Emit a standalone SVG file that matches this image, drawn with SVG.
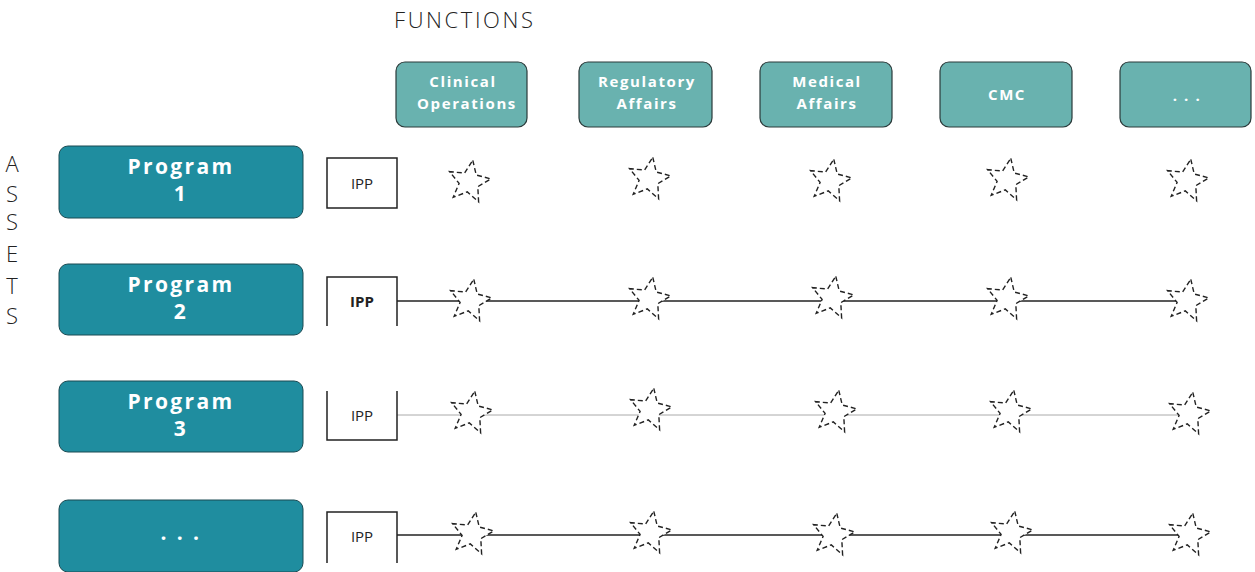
<svg xmlns="http://www.w3.org/2000/svg" width="1255" height="572" viewBox="0 0 1255 572">
<style>
.fn{fill:#69b2af;stroke:#2a3a3a;stroke-width:1.2}
.pg{fill:#1f8d9f;stroke:#1a4a52;stroke-width:1}
.ft{font-family:"Open Sans","Liberation Sans",sans-serif;font-weight:bold;font-size:15px;fill:#fff;text-anchor:middle;letter-spacing:1.6px}
.pt{font-family:"Open Sans","Liberation Sans",sans-serif;font-weight:bold;font-size:21px;fill:#fff;text-anchor:middle;letter-spacing:2.4px}
.ipp{fill:none;stroke:#222;stroke-width:1.5}
.it{font-family:"Open Sans","Liberation Sans",sans-serif;font-size:15px;fill:#222;text-anchor:middle}
.lab{font-family:"Open Sans","Liberation Sans",sans-serif;font-size:22px;fill:#222;font-weight:300}
.star{fill:#fff;stroke:#222;stroke-width:1.4;stroke-dasharray:5 3}
</style>
<defs>
<path id="st" d="M3.8,-21.7 L7.2,-7 L21.8,-3.1 L8.8,4.7 L9.6,19.8 L-1.7,9.9 L-15.8,15.3 L-9.9,1.4 L-19.4,-10.3 L-4.4,-9 Z"/>
</defs>
<text class="lab" x="394" y="28" font-size="24" letter-spacing="2.6">FUNCTIONS</text>
<g class="lab" text-anchor="middle">
<text x="12" y="172">A</text><text x="12" y="202">S</text><text x="12" y="230">S</text><text x="12" y="262">E</text><text x="12" y="294">T</text><text x="12" y="324">S</text>
</g>
<g id="connectors">
<line x1="397" y1="301" x2="1187" y2="301" stroke="#222" stroke-width="1.5"/>
<line x1="397" y1="415" x2="1187" y2="415" stroke="#aaa" stroke-width="1"/>
<line x1="397" y1="535" x2="1187" y2="535" stroke="#222" stroke-width="1.5"/>
</g>
<g id="f1"><rect class="fn" x="396" y="62" width="131" height="65" rx="9"/><text class="ft" x="463" y="87">Clinical</text><text class="ft" x="467" y="109">Operations</text></g>
<g id="f2"><rect class="fn" x="579" y="62" width="133" height="65" rx="9"/><text class="ft" x="647" y="87">Regulatory</text><text class="ft" x="647" y="109">Affairs</text></g>
<g id="f3"><rect class="fn" x="760" y="62" width="132" height="65" rx="9"/><text class="ft" x="827" y="87">Medical</text><text class="ft" x="827" y="109">Affairs</text></g>
<g id="f4"><rect class="fn" x="940" y="62" width="132" height="65" rx="9"/><text class="ft" x="1007" y="100">CMC</text></g>
<g id="f5"><rect class="fn" x="1120" y="62" width="131" height="65" rx="9"/><text class="ft" x="1187" y="101">. . .</text></g>
<g id="p1"><rect class="pg" x="59" y="146" width="244" height="72" rx="9"/><text class="pt" x="181" y="174">Program</text><text class="pt" x="181" y="201">1</text></g>
<g id="p2"><rect class="pg" x="59" y="264" width="244" height="71" rx="9"/><text class="pt" x="181" y="292">Program</text><text class="pt" x="181" y="319">2</text></g>
<g id="p3"><rect class="pg" x="59" y="381" width="244" height="71" rx="9"/><text class="pt" x="181" y="409">Program</text><text class="pt" x="181" y="436">3</text></g>
<g id="p4"><rect class="pg" x="59" y="500" width="244" height="72" rx="9"/><text class="pt" x="181" y="540">. . .</text></g>
<g id="ipp1"><rect class="ipp" x="327" y="158" width="70" height="50"/><text class="it" x="362" y="189">IPP</text></g>
<g id="ipp2"><path class="ipp" d="M327,326 V277 H397 V326"/><text class="it" x="362" y="307" font-weight="bold">IPP</text></g>
<g id="ipp3"><path class="ipp" d="M327,391 V440 H397 V391"/><text class="it" x="362" y="421">IPP</text></g>
<g id="ipp4"><path class="ipp" d="M327,563 V512 H397 V563"/><text class="it" x="362" y="542">IPP</text></g>
<g id="stars">
<use class="star" href="#st" transform="translate(469,182)"/>
<use class="star" href="#st" transform="translate(649,179)"/>
<use class="star" href="#st" transform="translate(830,181)"/>
<use class="star" href="#st" transform="translate(1007,180)"/>
<use class="star" href="#st" transform="translate(1187,181)"/>
<use class="star" href="#st" transform="translate(470,301)"/>
<use class="star" href="#st" transform="translate(649,299)"/>
<use class="star" href="#st" transform="translate(832,298)"/>
<use class="star" href="#st" transform="translate(1007,299)"/>
<use class="star" href="#st" transform="translate(1187,301)"/>
<use class="star" href="#st" transform="translate(471,413)"/>
<use class="star" href="#st" transform="translate(650,410)"/>
<use class="star" href="#st" transform="translate(835,412)"/>
<use class="star" href="#st" transform="translate(1010,412)"/>
<use class="star" href="#st" transform="translate(1189,414)"/>
<use class="star" href="#st" transform="translate(472,534)"/>
<use class="star" href="#st" transform="translate(650,533)"/>
<use class="star" href="#st" transform="translate(833,535)"/>
<use class="star" href="#st" transform="translate(1011,533)"/>
<use class="star" href="#st" transform="translate(1189,535)"/>
</g>
</svg>
